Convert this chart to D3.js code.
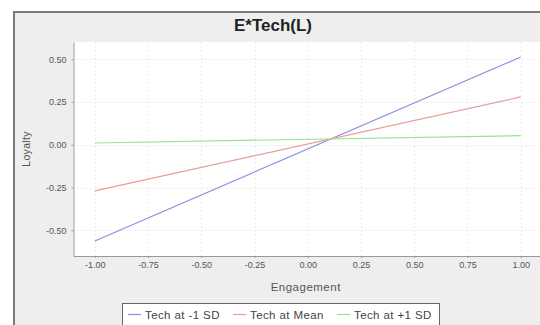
<!DOCTYPE html>
<html>
<head>
<meta charset="utf-8">
<script src="https://cdn.jsdelivr.net/npm/d3@7/dist/d3.min.js"></script>
<style>
  html, body { margin: 0; padding: 0; background: #ffffff; }
  svg { display: block; font-family: "Liberation Sans", Arial, sans-serif; }
</style>
</head>
<body>
<svg id="chart" width="540" height="325"></svg>
<script>
// Simple-slope endpoints of Loyalty on Engagement at three levels of Tech
const engagement = [-1.00, 1.00];
const seriesNames = ["Tech at -1 SD", "Tech at Mean", "Tech at +1 SD"];
const techLow  = [-0.562, 0.512];
const techMean = [-0.270, 0.279];
const techHigh = [0.010, 0.053];
const xTicks = [-1.00, -0.75, -0.50, -0.25, 0.00, 0.25, 0.50, 0.75, 1.00];
const yTicks = [-0.50, -0.25, 0.00, 0.25, 0.50];
const seriesColors = ["#8e8ee0", "#ec9c9c", "#92e692"];

const svg = d3.select("#chart");
const panel = { x: 14, y: 12 };
const plot = { left: 73.5, top: 42, right: 542, bottom: 256 };

// chart panel
svg.append("rect").attr("x", panel.x).attr("y", panel.y)
  .attr("width", 540 - panel.x + 2).attr("height", 325 - panel.y + 2)
  .attr("fill", "#eeeeee").attr("stroke", "#7a7a7a").attr("stroke-width", 2);

svg.append("text").attr("x", 273).attr("y", 31)
  .attr("text-anchor", "middle").attr("font-size", 17).attr("font-weight", "bold")
  .attr("fill", "#222").text("E*Tech(L)");

const x = d3.scaleLinear().domain([-1.1, 1.1]).range([plot.left, plot.right]);
const y = d3.scaleLinear().domain([-0.65, 0.60]).range([plot.bottom, plot.top]);

svg.append("rect").attr("x", plot.left).attr("y", plot.top)
  .attr("width", plot.right - plot.left).attr("height", plot.bottom - plot.top)
  .attr("fill", "#ffffff");

// grid
const grid = svg.append("g").attr("stroke", "#ececec").attr("stroke-width", 1)
  .attr("stroke-dasharray", "2,2");
grid.selectAll("line.v").data(xTicks).join("line")
  .attr("x1", d => Math.round(x(d)) + 0.5).attr("x2", d => Math.round(x(d)) + 0.5)
  .attr("y1", plot.top).attr("y2", plot.bottom);
grid.selectAll("line.h").data(yTicks).join("line")
  .attr("y1", d => Math.round(y(d)) + 0.5).attr("y2", d => Math.round(y(d)) + 0.5)
  .attr("x1", plot.left).attr("x2", plot.right);

// axes
const fmt = d => d3.format(".2f")(d).replace("−", "-");
const xAxis = d3.axisBottom(x).tickValues(xTicks).tickFormat(fmt)
  .tickSizeOuter(0).tickSizeInner(2).tickPadding(4);
const yAxis = d3.axisLeft(y).tickValues(yTicks).tickFormat(fmt)
  .tickSizeOuter(0).tickSizeInner(2).tickPadding(5);

const gx = svg.append("g").attr("transform", `translate(0,${plot.bottom})`).call(xAxis);
const gy = svg.append("g").attr("transform", `translate(${plot.left},0)`).call(yAxis);
[gx, gy].forEach(g => {
  g.select(".domain").attr("stroke", "#999");
  g.selectAll(".tick line").attr("stroke", "#999");
  g.selectAll(".tick text").attr("font-size", 9).attr("fill", "#555")
    .attr("font-family", "'Liberation Sans', Arial, sans-serif");
});

svg.append("text").attr("x", (plot.left + plot.right) / 2 - 2).attr("y", 291)
  .attr("text-anchor", "middle").attr("font-size", 11.5).attr("letter-spacing", 0.5)
  .attr("fill", "#555").text("Engagement");
svg.append("text").attr("transform", `translate(30,${(plot.top + plot.bottom) / 2}) rotate(-90)`)
  .attr("text-anchor", "middle").attr("font-size", 10.5).attr("letter-spacing", 0.3)
  .attr("fill", "#555").text("Loyalty");

// series lines
const series = [techLow, techMean, techHigh];
const line = d3.line().x(d => x(d[0])).y(d => y(d[1]));
svg.append("g").selectAll("path").data(series).join("path")
  .attr("d", vals => line(engagement.map((e, i) => [e, vals[i]])))
  .attr("fill", "none")
  .attr("stroke", (d, i) => seriesColors[i])
  .attr("stroke-width", 1.2);

// legend
const legend = svg.append("g");
legend.append("rect").attr("x", 122.5).attr("y", 303.5).attr("width", 317).attr("height", 30)
  .attr("fill", "#ffffff").attr("stroke", "#666").attr("stroke-width", 1);
const legendX = [128, 233, 337];
seriesNames.forEach((name, i) => {
  legend.append("line").attr("x1", legendX[i]).attr("x2", legendX[i] + 13)
    .attr("y1", 314.5).attr("y2", 314.5).attr("stroke", seriesColors[i]).attr("stroke-width", 1.2);
  legend.append("text").attr("x", legendX[i] + 17).attr("y", 318.5)
    .attr("font-size", 11.5).attr("letter-spacing", 0.4).attr("fill", "#444").text(name);
});
</script>
</body>
</html>
